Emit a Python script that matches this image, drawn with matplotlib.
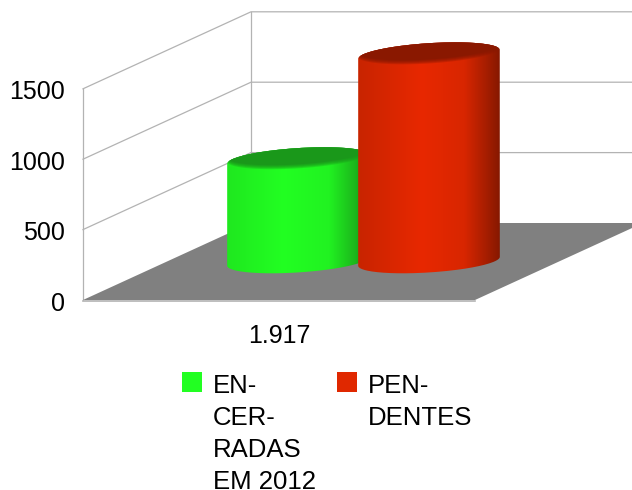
import matplotlib
matplotlib.use("Agg")
import matplotlib.pyplot as plt
import matplotlib.patches as mpatches
from matplotlib.colors import LinearSegmentedColormap
from matplotlib.path import Path
import numpy as np

plt.rcParams['font.family'] = ['Liberation Sans', 'DejaVu Sans']

category = "1.917"
series_names = ["EN-\nCER-\nRADAS\nEM 2012", "PEN-\nDENTES"]
series_values = [725, 1470]
tick_values = [0, 500, 1000, 1500]

body_stops = [
    [(0.0, "#1fe81f"), (0.4, "#22ff22"), (0.72, "#21f221"), (0.9, "#1cb81c"), (1.0, "#149014")],
    [(0.0, "#c82400"), (0.45, "#e82800"), (0.75, "#d82600"), (0.9, "#a81e00"), (1.0, "#861800")],
]
top_colors = ["#1a981a", "#8a1800"]
legend_colors = ["#22ff22", "#e02800"]

# pixel geometry of the fake 3d box
x_front, x_back = 83, 251
y_floor_front, y_floor_back = 300, 223
px_per_unit = 70.4 / 500
floor_width = 392


def wall_y(v, y0):
    return y0 - v * px_per_unit


fig = plt.figure(figsize=(6.32, 4.90), dpi=100)
ax = fig.add_axes([0, 0, 1, 1])
ax.set_xlim(0, 632)
ax.set_ylim(490, 0)
ax.axis('off')

grid_c = "#b3b3b3"
top_v = tick_values[-1]
ax.plot([x_front, x_front], [wall_y(top_v, y_floor_front), y_floor_front], color=grid_c, lw=0.9)
ax.plot([x_back, x_back], [wall_y(top_v, y_floor_back), y_floor_back], color=grid_c, lw=0.9)
for v in tick_values[1:]:
    ax.plot([x_front, x_back, 632], [wall_y(v, y_floor_front), wall_y(v, y_floor_back), wall_y(v, y_floor_back)],
            color=grid_c, lw=0.9)

# floor
dx_box = x_back - x_front
floor = mpatches.Polygon([(x_front, y_floor_front), (x_front + floor_width, y_floor_front),
                          (x_back + floor_width, y_floor_back), (x_back, y_floor_back)],
                         closed=True, facecolor="#808080", edgecolor="none", zorder=2)
ax.add_patch(floor)
ax.plot([x_front, x_front + floor_width], [y_floor_front + 0.8] * 2, color=grid_c, lw=1.2, zorder=2)

# cylinders: sheared ellipses lying on the floor plane
half_w = 65.8
by = 12.0
bx = by * dx_box / (y_floor_front - y_floor_back)
t_ext = np.arctan2(bx, half_w)
base_y = 261.3
centers = [298, 429]


def ring(cx, cy, t):
    return np.column_stack([cx + half_w * np.cos(t) + bx * np.sin(t), cy - by * np.sin(t)])


for i, v in enumerate(series_values):
    cx = centers[i]
    top_y = base_y - v * px_per_unit
    # lower arc of base then upper arc of top
    low = ring(cx, base_y, np.linspace(t_ext + np.pi, t_ext + 2 * np.pi, 80))
    up = ring(cx, top_y, np.linspace(t_ext, t_ext + np.pi, 80))
    outline = np.vstack([low, up, low[:1]])
    clip = mpatches.PathPatch(Path(outline), transform=ax.transData, facecolor="none", edgecolor="none")
    ax.add_patch(clip)
    cmap = LinearSegmentedColormap.from_list("body%d" % i, body_stops[i])
    r = np.sqrt(half_w ** 2 + bx ** 2)
    grad = np.linspace(0, 1, 256).reshape(1, -1)
    im = ax.imshow(grad, cmap=cmap, aspect='auto', zorder=3 + i,
                   extent=[cx - r, cx + r, base_y + 20, top_y - 20], interpolation='bilinear')
    im.set_clip_path(clip)

    # dark lid with a soft lower rim, layers shifted up and clipped to the lid
    t_all = np.linspace(0, 2 * np.pi, 160)
    lid = mpatches.PathPatch(Path(np.vstack([ring(cx, top_y, t_all), ring(cx, top_y, t_all)[:1]])),
                             transform=ax.transData, facecolor="none", edgecolor="none")
    ax.add_patch(lid)
    for shift, alpha in [(2, 0.3), (3, 0.35), (4, 0.4), (5, 0.5), (6, 1.0)]:
        layer = mpatches.Polygon(ring(cx, top_y - shift, t_all), closed=True, facecolor=top_colors[i],
                                 edgecolor="none", alpha=alpha, zorder=3 + i)
        ax.add_patch(layer)
        layer.set_clip_path(lid)

ax.set_xlim(0, 632)
ax.set_ylim(490, 0)

# y tick labels
for v in tick_values:
    ax.text(65, wall_y(v, y_floor_front) + 3.5, str(v), ha='right', va='center', fontsize=18, color="black", zorder=6)

ax.text(279, 336, category, ha='center', va='center', fontsize=18, color="black")

# legend
legend_x = [182, 337]
for i, name in enumerate(series_names):
    ax.add_patch(mpatches.Rectangle((legend_x[i], 372), 20, 20, facecolor=legend_colors[i], edgecolor="none"))
    for j, line in enumerate(name.split("\n")):
        ax.text(legend_x[i] + 31, 393 + j * 32.0, line, ha='left', va='baseline', fontsize=18.5, color="black")

fig.savefig("out.png", dpi=100)
